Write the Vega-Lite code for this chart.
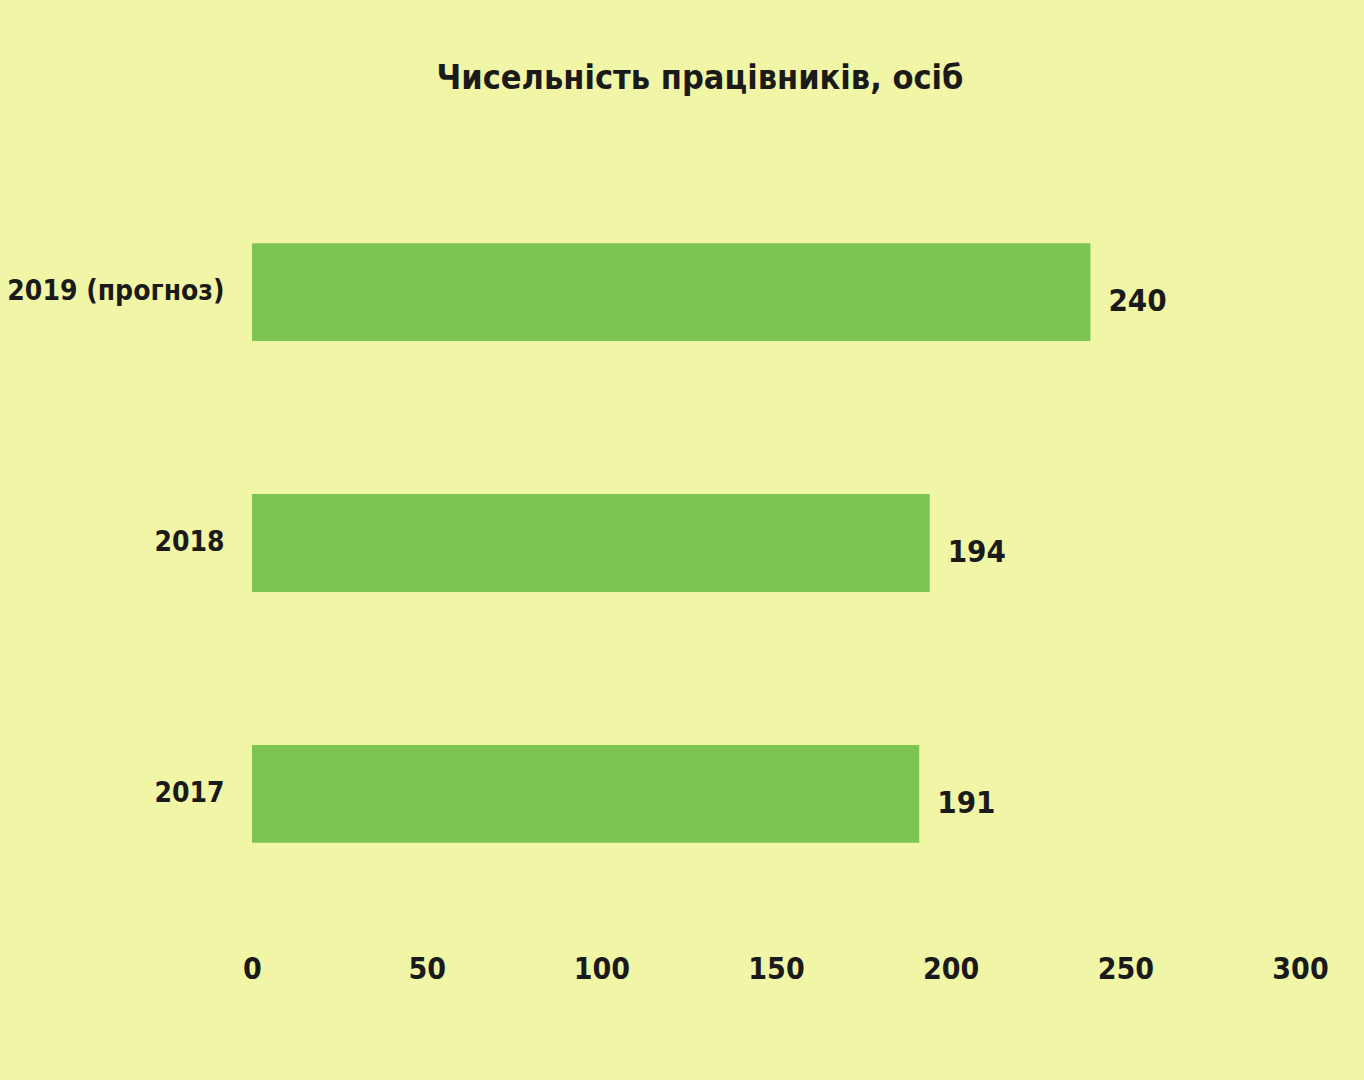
{
  "$schema": "https://vega.github.io/schema/vega-lite/v6.json",
  "width": 1048,
  "height": 750,
  "padding": {"left": 0, "top": 62, "right": 44, "bottom": 96},
  "background": "#f1f6a6",
  "title": {
    "text": "Чисельність працівників, осіб",
    "font": "DejaVu Sans Condensed",
    "fontSize": 34,
    "fontWeight": "bold",
    "color": "#1a1a1a",
    "anchor": "middle",
    "dx": -76,
    "offset": 72
  },
  "data": {
    "values": [
      {"year": "2019 (прогноз)", "value": 240},
      {"year": "2018", "value": 194},
      {"year": "2017", "value": 191}
    ]
  },
  "encoding": {
    "y": {
      "field": "year",
      "type": "nominal",
      "sort": ["2019 (прогноз)", "2018", "2017"],
      "title": null,
      "scale": {"paddingInner": 0.61, "paddingOuter": 0.3},
      "axis": {
        "domain": false,
        "ticks": false,
        "labelFont": "DejaVu Sans Condensed",
        "labelFontSize": 28,
        "labelFontWeight": "bold",
        "labelColor": "#1a1a1a",
        "labelPadding": 28,
        "labelLimit": 300,
        "minExtent": 252,
        "maxExtent": 252
      }
    },
    "x": {
      "field": "value",
      "type": "quantitative",
      "title": null,
      "scale": {"domain": [0, 300]},
      "axis": {
        "values": [0, 50, 100, 150, 200, 250, 300],
        "domain": false,
        "ticks": false,
        "grid": false,
        "labelFont": "DejaVu Sans Condensed",
        "labelFontSize": 30,
        "labelFontWeight": "bold",
        "labelColor": "#1a1a1a",
        "labelPadding": 36,
        "labelFlush": false
      }
    }
  },
  "layer": [
    {"mark": {"type": "bar", "color": "#7cc552"}},
    {
      "mark": {
        "type": "text",
        "align": "left",
        "baseline": "middle",
        "dx": 18,
        "dy": 10,
        "font": "DejaVu Sans Condensed",
        "fontSize": 31,
        "fontWeight": "bold",
        "color": "#1a1a1a"
      },
      "encoding": {"text": {"field": "value", "type": "quantitative"}}
    }
  ],
  "config": {
    "view": {"stroke": null}
  }
}
